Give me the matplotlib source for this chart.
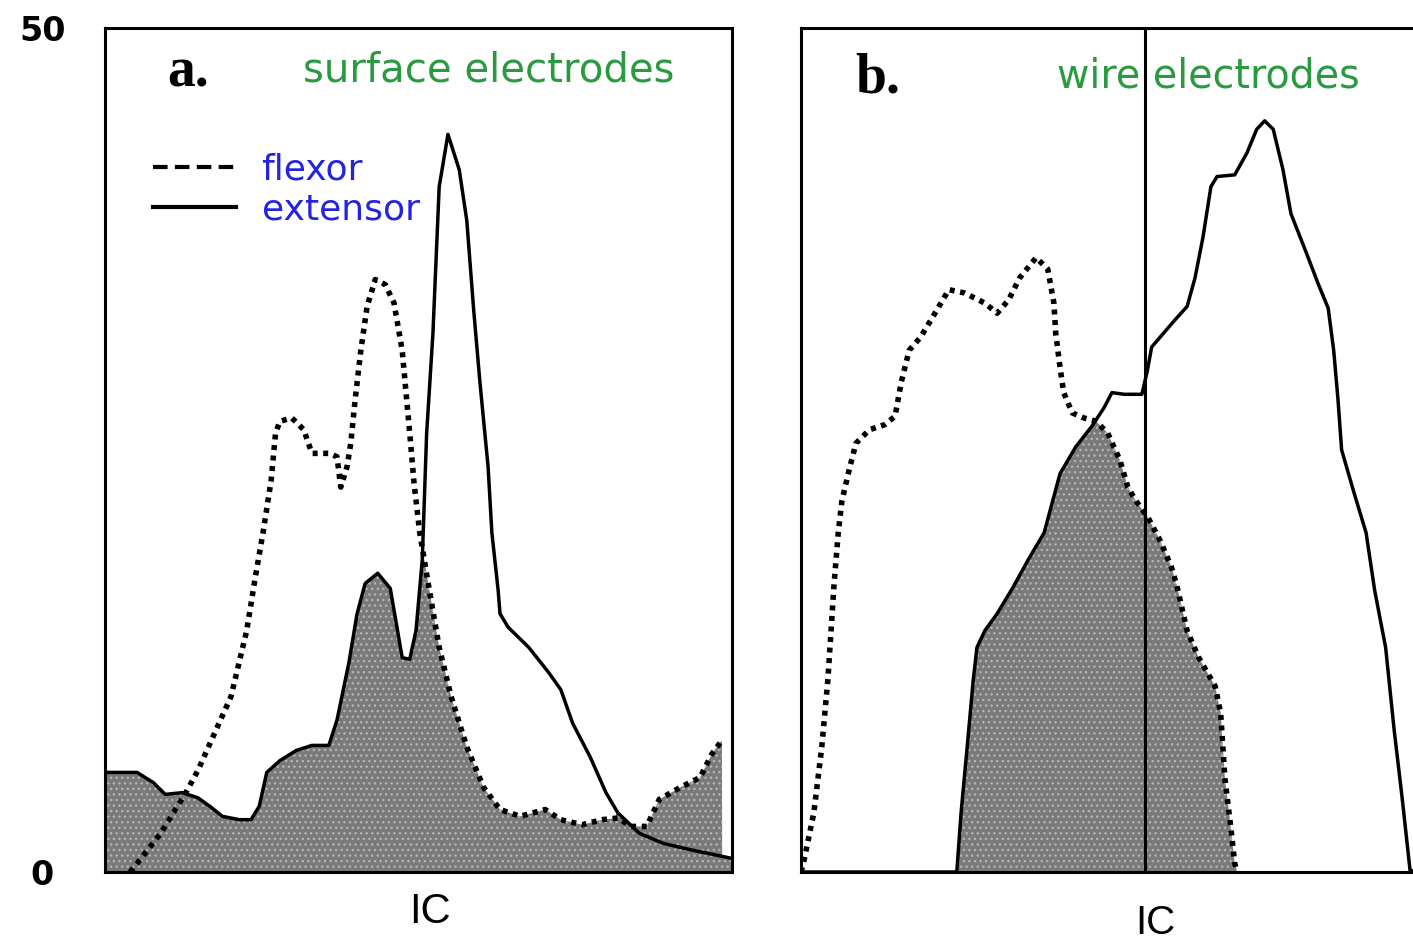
import numpy as np
import matplotlib
matplotlib.use('Agg')
import matplotlib.pyplot as plt
from matplotlib.lines import Line2D

# panel a, surface electrodes
flex_a_x = [4.0, 5.1, 8.9, 12.9, 14.8, 20.1, 22.6, 23.9, 25.2, 26.5, 27.2, 27.9, 29.8, 31.7, 33.0,
            35.7, 37.0, 37.6, 38.6, 39.2, 39.9, 40.8, 41.8, 43.1, 44.7, 46.1, 47.4, 48.6, 49.3,
            50.2, 51.5, 53.3, 55.2, 57.7, 60.4, 63.0, 66.2, 70.2, 72.7, 76.1, 79.3, 81.8, 83.9,
            86.4, 88.4, 91.7, 94.9, 96.8, 98.4]
flex_a_y = [0.0, 0.5, 2.3, 4.7, 6.0, 10.4, 14.3, 17.3, 20.1, 23.2, 26.0, 26.7, 26.9, 26.2, 24.8,
            24.8, 24.6, 22.8, 24.0, 25.4, 28.0, 30.9, 33.5, 35.1, 34.8, 33.7, 30.9, 26.0, 23.0,
            20.1, 17.2, 13.3, 10.4, 7.4, 5.0, 3.7, 3.3, 3.7, 3.1, 2.8, 3.1, 3.2, 2.7,
            2.7, 4.3, 5.0, 5.6, 7.0, 7.8]
ext_a_x = [0, 5.1, 7.7, 9.6, 12.3, 14.8, 16.7, 18.7, 21.4, 23.3, 24.6, 25.8, 27.9, 30.5, 33.0,
           35.7, 37.0, 38.9, 40.2, 41.5, 43.5, 45.5, 47.4, 48.6, 49.6, 50.6, 51.3, 52.3, 53.3,
           54.7, 56.5, 57.7, 58.8, 59.8, 61.1, 61.7, 62.7, 63.0, 64.3, 67.6, 70.8, 72.7, 74.6,
           77.4, 79.9, 81.8, 85.2, 89.0, 93.6, 98.8, 100]
ext_a_y = [5.9, 5.9, 5.3, 4.6, 4.7, 4.4, 3.9, 3.3, 3.1, 3.1, 3.9, 5.9, 6.6, 7.2, 7.5,
           7.5, 9.0, 12.4, 15.3, 17.1, 17.7, 16.8, 12.7, 12.6, 14.3, 18.5, 26.0, 31.9, 40.6,
           43.7, 41.6, 38.6, 33.3, 29.0, 24.0, 20.1, 16.7, 15.3, 14.5, 13.3, 11.8, 10.8, 8.8,
           6.8, 4.7, 3.5, 2.3, 1.7, 1.3, 0.9, 0.8]
# outside these limits the shaded area follows the upper curve
shade_a_lo = 12.6
shade_a_hi = 81.5

# panel b, wire electrodes
flex_b_x = [0, 0.5, 2.1, 3.4, 4.4, 5.1, 5.4, 6.1, 6.7, 8.0, 9.0, 11.2, 13.7, 15.4, 16.4, 17.7,
            19.6, 21.6, 22.9, 24.2, 26.8, 30.1, 32.1, 34.0, 35.8, 38.5, 40.4, 41.4, 41.7, 42.4,
            43.0, 44.4, 46.3, 48.3, 50.2, 52.2, 53.5, 54.8, 56.8, 58.7, 60.6, 61.5, 63.2, 65.1,
            67.8, 68.7, 69.4, 70.4, 71.0, 71.4]
flex_b_y = [0, 0.7, 3.5, 7.4, 11.4, 15.3, 17.0, 20.1, 22.0, 24.0, 25.4, 26.2, 26.5, 27.0, 29.0, 30.9,
            31.7, 32.9, 33.7, 34.5, 34.3, 33.7, 33.1, 33.9, 35.2, 36.4, 35.7, 33.7, 31.9, 29.9,
            28.4, 27.2, 26.9, 26.7, 26.0, 24.4, 22.8, 22.0, 21.0, 19.7, 18.1, 17.0, 14.3, 12.7,
            11.0, 9.4, 5.5, 2.5, 0.5, 0]
ext_b_x = [0, 25.5, 26.2, 27.2, 28.2, 28.8, 30.1, 32.1, 34.6, 37.2, 39.8, 42.4, 45.0, 47.6, 49.6,
           50.9, 52.9, 55.8, 56.7, 57.4, 59.3, 61.2, 63.2, 64.5, 65.8, 67.1, 68.1, 71.0, 73.0,
           74.6, 75.9, 77.3, 78.9, 80.2, 82.7, 84.6, 86.3, 87.2, 87.9, 88.5, 90.5, 92.5, 93.9,
           95.7, 97.1, 98.4, 99.7, 101]
ext_b_y = [0, 0, 3.5, 7.4, 11.4, 13.3, 14.3, 15.3, 16.8, 18.5, 20.1, 23.6, 25.2, 26.4, 27.5,
           28.4, 28.3, 28.3, 29.7, 31.1, 31.9, 32.7, 33.5, 35.2, 37.6, 40.6, 41.2, 41.3, 42.6,
           44.0, 44.5, 44.0, 41.6, 39.0, 36.7, 34.9, 33.4, 30.9, 28.0, 25.0, 22.5, 20.1, 16.7,
           13.3, 8.4, 4.4, 0.1, 0]
marker_b = 56.3

green = '#2a9a40'
blue = '#2424e0'
DOTS = (0, (0.9, 1.0))


def draw_panel(ax, fx, fy, ex, ey, xmax, shade_fn):
    grid = np.linspace(0, xmax, 3000)
    f = np.interp(grid, fx, fy, left=0, right=0)
    e = np.interp(grid, ex, ey, left=0, right=0)
    top = shade_fn(grid, f, e)
    ax.fill_between(grid, 0, top, facecolor='#7a7a7a', edgecolor='#b4b4b4',
                    hatch='...', linewidth=0, zorder=1)
    ax.plot(ex, ey, color='black', lw=2.5, zorder=3,
            solid_joinstyle='round', solid_capstyle='round')
    ax.plot(fx, fy, color='black', lw=4.0, linestyle=DOTS, zorder=3)
    ax.set_xlim(0, xmax)
    ax.set_ylim(0, 50)
    ax.set_xticks([])
    for s in ax.spines.values():
        s.set_linewidth(2.2)


fig = plt.figure(figsize=(14.13, 9.44), dpi=100)
W, H = 1413.0, 944.0
ax_a = fig.add_axes([105 / W, 72 / H, 627 / W, 844 / H])
ax_b = fig.add_axes([801 / W, 72 / H, 617 / W, 844 / H])

draw_panel(ax_a, flex_a_x, flex_a_y, ext_a_x, ext_a_y, 100,
           lambda g, f, e: np.where((g < shade_a_lo) | (g > shade_a_hi),
                                    np.maximum(f, e), np.minimum(f, e)))
draw_panel(ax_b, flex_b_x, flex_b_y, ext_b_x, ext_b_y, 101,
           lambda g, f, e: np.minimum(f, e))

ax_a.set_yticks([0, 50])
ax_a.set_yticklabels(['0', '50'], fontsize=24, fontweight='bold', family='DejaVu Sans')
ax_a.tick_params(axis='y', length=0, pad=45)
for lab in ax_a.get_yticklabels():
    lab.set_horizontalalignment('center')
ax_b.set_yticks([])

ax_b.axvline(marker_b, color='black', lw=2.2, zorder=4)

ax_a.text(0.099, 0.931, 'a.', transform=ax_a.transAxes, fontsize=40, fontweight='bold',
          family='Liberation Serif', va='baseline')
ax_a.text(0.316, 0.937, 'surface electrodes', transform=ax_a.transAxes, fontsize=29,
          color=green, family='DejaVu Sans', va='baseline')
ax_b.text(0.0875, 0.924, 'b.', transform=ax_b.transAxes, fontsize=40, fontweight='bold',
          family='Liberation Serif', va='baseline')
ax_b.text(0.415, 0.929, 'wire electrodes', transform=ax_b.transAxes, fontsize=28.5,
          color=green, family='DejaVu Sans', va='baseline', zorder=2)

handles = [Line2D([], [], color='black', lw=3, linestyle=(0, (3.5, 1.75))),
           Line2D([], [], color='black', lw=3)]
leg = ax_a.legend(handles, ['flexor', 'extensor'], loc='upper left',
                  bbox_to_anchor=(0.077, 0.852), frameon=False,
                  prop={'family': 'DejaVu Sans', 'size': 26}, labelcolor=blue,
                  handlelength=2.3, handletextpad=0.7, labelspacing=0.15,
                  borderaxespad=0, borderpad=0)

ax_a.set_xlabel('IC', fontsize=30, family='Liberation Sans')
ax_a.xaxis.set_label_coords(0.518, -0.0604)
ax_a.xaxis.label.set_va('baseline')
ax_b.set_xlabel('IC', fontsize=29, family='Liberation Sans')
ax_b.xaxis.set_label_coords(0.574, -0.0735)
ax_b.xaxis.label.set_va('baseline')

fig.savefig('out.png', dpi=100)
